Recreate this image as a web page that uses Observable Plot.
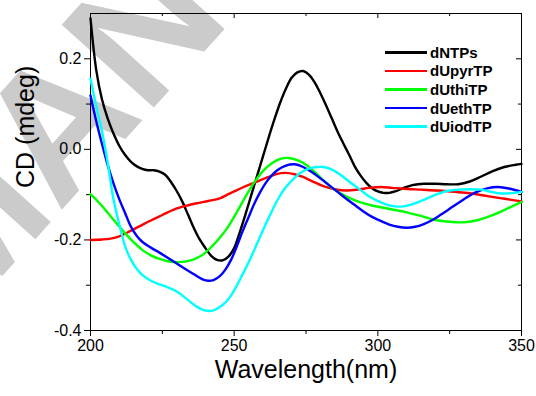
<!DOCTYPE html>
<html><head><meta charset="utf-8">
<script src="https://cdn.jsdelivr.net/npm/d3@7"></script>
<script src="https://cdn.jsdelivr.net/npm/@observablehq/plot@0.6"></script>
<style>
body{margin:0;background:#fff;font-family:"Liberation Sans",Arial,sans-serif}
#wrap{position:relative;width:536px;height:396px;overflow:hidden}
#legend{position:absolute;left:385px;top:43px;font-weight:bold;font-size:15px;color:#000}
.row{display:flex;align-items:center;height:18.6px}
.sw{width:42px;height:2.6px;margin-right:3px}
</style></head><body><div id="wrap"><div id="legend"></div></div>
<script>
const seriesNames = ["dNTPs","dUpyrTP","dUthiTP","dUethTP","dUiodTP"];
const seriesColors = ["#000000","#ff0000","#00ff00","#0000ff","#00ffff"];
const xMajor = [200,250,300,350];
const xMinor = [225,275,325];
const yMajor = [0.2,0.0,-0.2,-0.4];
const yMinor = [0.1,-0.1,-0.3];
const watermark = "MANUSCRIPT";

const dNTPs = [[200,0.289],[202,0.175],[204,0.11],[206,0.068],[208,0.035],[210,0.008],[212,-0.012],[214,-0.027],[216,-0.037],[218,-0.043],[220,-0.046],[222,-0.046],[224,-0.049],[226,-0.056],[228,-0.072],[230,-0.092],[232,-0.116],[234,-0.145],[236,-0.174],[238,-0.199],[240,-0.218],[242,-0.235],[244,-0.244],[246,-0.245],[248,-0.237],[250,-0.218],[252,-0.182],[254,-0.142],[256,-0.1],[258,-0.058],[260,-0.016],[262,0.026],[264,0.066],[266,0.103],[268,0.134],[270,0.158],[272,0.17],[274,0.173],[276,0.165],[278,0.148],[280,0.124],[282,0.097],[284,0.068],[286,0.039],[288,0.013],[290,-0.012],[292,-0.038],[294,-0.058],[296,-0.074],[298,-0.086],[300,-0.093],[302,-0.096],[304,-0.096],[306,-0.093],[308,-0.088],[310,-0.083],[312,-0.079],[314,-0.077],[316,-0.076],[320,-0.076],[324,-0.077],[328,-0.077],[332,-0.071],[336,-0.06],[340,-0.048],[344,-0.039],[348,-0.034],[350,-0.032]];
const dUpyrTP = [[200,-0.2],[204,-0.199],[207,-0.197],[210,-0.192],[213,-0.183],[217,-0.17],[221,-0.157],[225,-0.145],[229,-0.133],[233,-0.125],[237,-0.119],[241,-0.114],[245,-0.108],[248,-0.099],[251,-0.09],[254,-0.081],[258,-0.071],[262,-0.061],[265,-0.054],[268,-0.052],[271,-0.055],[274,-0.061],[277,-0.07],[281,-0.081],[285,-0.088],[289,-0.091],[293,-0.089],[297,-0.085],[301,-0.083],[305,-0.085],[309,-0.087],[315,-0.089],[321,-0.091],[327,-0.094],[332,-0.097],[337,-0.102],[342,-0.107],[346,-0.111],[350,-0.115]];
const dUthiTP = [[200,-0.099],[203,-0.118],[206,-0.14],[209,-0.163],[212,-0.185],[215,-0.205],[218,-0.222],[221,-0.234],[224,-0.242],[227,-0.247],[230,-0.249],[233,-0.248],[236,-0.243],[239,-0.233],[242,-0.216],[245,-0.195],[248,-0.17],[251,-0.138],[254,-0.104],[257,-0.073],[260,-0.048],[263,-0.031],[266,-0.021],[269,-0.019],[272,-0.024],[275,-0.034],[278,-0.05],[281,-0.068],[284,-0.085],[287,-0.097],[290,-0.107],[294,-0.117],[298,-0.124],[302,-0.129],[306,-0.134],[310,-0.139],[315,-0.147],[320,-0.156],[325,-0.16],[330,-0.161],[335,-0.156],[340,-0.145],[345,-0.131],[350,-0.116]];
const dUethTP = [[200,0.119],[202,0.062],[204,0.012],[206,-0.035],[208,-0.075],[210,-0.11],[212,-0.14],[214,-0.17],[216,-0.19],[218,-0.204],[221,-0.217],[224,-0.228],[227,-0.24],[230,-0.252],[233,-0.264],[236,-0.276],[239,-0.287],[241,-0.29],[243,-0.288],[245,-0.28],[247,-0.265],[249,-0.243],[251,-0.213],[253,-0.18],[255,-0.15],[257,-0.12],[259,-0.095],[261,-0.074],[263,-0.058],[265,-0.046],[268,-0.036],[271,-0.033],[274,-0.039],[277,-0.05],[280,-0.064],[283,-0.079],[286,-0.094],[289,-0.109],[292,-0.123],[295,-0.137],[298,-0.149],[301,-0.158],[304,-0.166],[307,-0.171],[310,-0.173],[313,-0.171],[316,-0.165],[319,-0.156],[322,-0.144],[326,-0.127],[330,-0.11],[334,-0.095],[338,-0.086],[342,-0.083],[346,-0.087],[350,-0.094]];
const dUiodTP = [[200,0.156],[202,0.095],[204,0.04],[206,-0.03],[208,-0.11],[210,-0.165],[212,-0.213],[214,-0.243],[216,-0.263],[218,-0.277],[221,-0.29],[224,-0.298],[227,-0.305],[230,-0.314],[233,-0.328],[236,-0.343],[239,-0.354],[241,-0.357],[243,-0.355],[245,-0.348],[247,-0.338],[249,-0.322],[251,-0.3],[253,-0.275],[255,-0.25],[257,-0.222],[259,-0.193],[261,-0.165],[263,-0.138],[265,-0.113],[267,-0.092],[269,-0.076],[271,-0.063],[273,-0.052],[275,-0.045],[277,-0.041],[279,-0.039],[281,-0.039],[283,-0.042],[285,-0.048],[287,-0.056],[289,-0.066],[291,-0.076],[293,-0.085],[295,-0.095],[297,-0.104],[300,-0.114],[303,-0.122],[306,-0.126],[309,-0.126],[312,-0.121],[315,-0.114],[318,-0.106],[321,-0.098],[324,-0.092],[328,-0.089],[332,-0.088],[336,-0.089],[339,-0.093],[342,-0.097],[346,-0.097],[350,-0.094]];

const seriesData = [dNTPs, dUpyrTP, dUthiTP, dUethTP, dUiodTP];
const rows = seriesData.flatMap((s, i) => s.map(([wl, cd]) => ({wl, cd, name: seriesNames[i]})));

const W = 536, H = 396, mL = 90, mR = 15, mT = 13, mB = 66;
const fw = W - mL - mR, fh = H - mT - mB;
const font = "'Liberation Sans', Arial, sans-serif";

const chart = Plot.plot({
  width: W, height: H,
  marginLeft: mL, marginRight: mR, marginTop: mT, marginBottom: mB,
  style: {fontFamily: font, background: "transparent", color: "#000"},
  x: {domain: [200, 350]},
  y: {domain: [-0.4, 0.3]},
  color: {domain: seriesNames, range: seriesColors},
  marks: [
    Plot.text([watermark], {frameAnchor: "top-left", text: d => d, dx: -132, dy: 311, rotate: -48, fontSize: 180, fontWeight: "bold", fill: "#cbcbcb", textAnchor: "start", lineAnchor: "bottom"}),
    Plot.axisX({ticks: xMajor, tickSize: 6, tickPadding: 3, fontSize: 16, tickFormat: d => String(d), label: null}),
    Plot.axisX({ticks: xMinor, tickSize: 4, tickFormat: () => "", label: null}),
    Plot.axisY({ticks: yMajor, tickSize: 6, tickPadding: 3, fontSize: 16, tickFormat: d => d.toFixed(1), label: null}),
    Plot.axisY({ticks: yMinor, tickSize: 4, tickFormat: () => "", label: null}),
    Plot.ruleX(xMajor, {x: d => d, insetBottom: fh - 5}),
    Plot.ruleX(xMinor, {x: d => d, insetBottom: fh - 3}),
    Plot.ruleY(yMajor, {y: d => d, insetLeft: fw - 5}),
    Plot.ruleY(yMinor, {y: d => d, insetLeft: fw - 3}),
    Plot.frame({stroke: "#000", strokeWidth: 1}),
    Plot.line(rows, {x: "wl", y: "cd", z: "name", stroke: "name", strokeWidth: 2.4, curve: "catmull-rom"}),
    Plot.text(["Wavelength(nm)"], {frameAnchor: "bottom", text: d => d, dy: 47, fontSize: 25}),
    Plot.text(["CD (mdeg)"], {frameAnchor: "left", text: d => d, dx: -65, dy: 16, rotate: -90, fontSize: 25})
  ]
});
chart.style.position = "absolute";
chart.style.left = "0px";
chart.style.top = "0px";
const wrap = document.getElementById("wrap");
wrap.insertBefore(chart, wrap.firstChild);

const legend = document.getElementById("legend");
seriesNames.forEach((n, i) => {
  const r = document.createElement("div");
  r.className = "row";
  const sw = document.createElement("div");
  sw.className = "sw";
  sw.style.background = seriesColors[i];
  const t = document.createElement("span");
  t.textContent = n;
  r.appendChild(sw); r.appendChild(t);
  legend.appendChild(r);
});
</script>
</body></html>
